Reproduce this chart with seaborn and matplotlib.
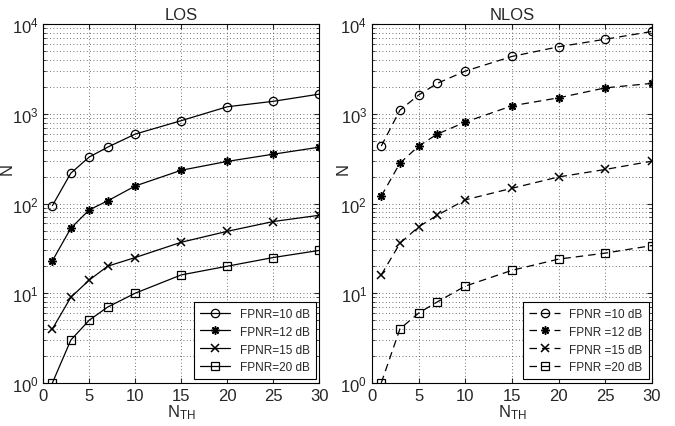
import numpy as np
import pandas as pd
import matplotlib
matplotlib.use("Agg")
import matplotlib.pyplot as plt
import seaborn as sns

sns.set_style("ticks")
plt.rcParams["font.family"] = ["Liberation Sans", "DejaVu Sans"]
plt.rcParams["mathtext.fontset"] = "custom"
plt.rcParams["mathtext.rm"] = "Liberation Sans"
plt.rcParams["mathtext.it"] = "Liberation Sans"

n_th = [1, 3, 5, 7, 10, 15, 20, 25, 30]

los_10 = [95, 218, 330, 425, 595, 840, 1200, 1380, 1660]
los_12 = [23, 53, 85, 107, 157, 235, 295, 355, 425]
los_15 = [4, 9, 14, 20, 25, 37, 49, 63, 74]
los_20 = [1, 3, 5, 7, 10, 16, 20, 25, 30]

nlos_10 = [437, 1100, 1620, 2190, 3000, 4370, 5600, 6800, 8300]
nlos_12 = [121, 282, 437, 595, 810, 1230, 1510, 1950, 2190]
nlos_15 = [16, 36, 55, 74, 110, 148, 198, 240, 297]
nlos_20 = [1, 4, 6, 8, 12, 18, 24, 28, 34]

snr = ["10", "12", "15", "20"]
markers = ["o", (8, 2, 0), "x", "s"]
x_ticks = [0, 5, 10, 15, 20, 25, 30]

fig = plt.figure(figsize=(6.75, 4.27), dpi=100)
ax1 = fig.add_axes([0.064, 0.101, 0.409, 0.840])
ax2 = fig.add_axes([0.551, 0.101, 0.415, 0.840])

panels = [
    (ax1, "LOS", [los_10, los_12, los_15, los_20], "-", "FPNR={} dB", -0.105),
    (ax2, "NLOS", [nlos_10, nlos_12, nlos_15, nlos_20], (0, (6, 4)), "FPNR ={} dB", -0.075),
]

for ax, title, series, ls, fmt, ylab_x in panels:
    for vals, s, m in zip(series, snr, markers):
        df = pd.DataFrame({"N_TH": n_th, "N": vals})
        open_m = m in ("o", "s")
        sns.lineplot(
            data=df, x="N_TH", y="N", ax=ax, color="black",
            marker=m, markersize=6,
            markerfacecolor="none" if open_m else "black",
            markeredgecolor="black", markeredgewidth=0.9 if open_m else 1.1,
            linewidth=0.9, linestyle=ls, label=fmt.format(s),
        )
    ax.set_yscale("log")
    ax.set_ylim(1, 1e4)
    ax.set_xlim(0, 30)
    ax.set_xticks(x_ticks)
    ax.set_title(title, fontsize=12, pad=4)
    ax.set_xlabel(r"N$_{\mathrm{TH}}$", fontsize=12, labelpad=0)
    ax.set_ylabel("N", fontsize=12)
    ax.yaxis.set_label_coords(ylab_x, 0.6)
    ax.tick_params(axis="both", which="both", direction="in", labelsize=12,
                   top=True, right=True)
    ax.grid(True, which="major", axis="both", linestyle=(0, (1, 3)), color="0.25", linewidth=0.6)
    ax.grid(True, which="minor", axis="y", linestyle=(0, (1, 3)), color="0.25", linewidth=0.6)
    for sp in ax.spines.values():
        sp.set_color("black")
        sp.set_linewidth(0.8)
    leg = ax.legend(loc="lower right", fontsize=8.5, fancybox=False,
                    framealpha=1, edgecolor="black", handlelength=2.6,
                    borderpad=0.5, labelspacing=0.5, borderaxespad=0.3)
    leg.get_frame().set_linewidth(0.8)

fig.savefig("out.png", dpi=100, facecolor="white")
